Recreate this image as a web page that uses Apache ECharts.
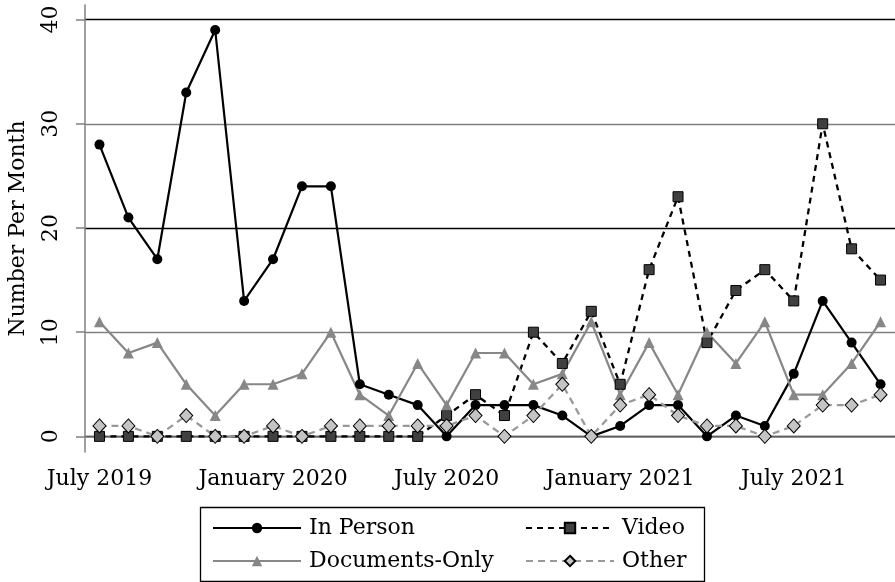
<!DOCTYPE html>
<html>
<head>
<meta charset="utf-8">
<script src="https://cdn.jsdelivr.net/npm/echarts@6/dist/echarts.min.js"></script>
<style>
  html, body { margin: 0; padding: 0; background: #fff; }
  #chart { width: 895px; height: 582px; }
</style>
</head>
<body>
<div id="chart"></div>
<script>
var months = [
	'July 2019', 'August 2019', 'September 2019', 'October 2019', 'November 2019', 'December 2019',
	'January 2020', 'February 2020', 'March 2020', 'April 2020', 'May 2020', 'June 2020',
	'July 2020', 'August 2020', 'September 2020', 'October 2020', 'November 2020', 'December 2020',
	'January 2021', 'February 2021', 'March 2021', 'April 2021', 'May 2021', 'June 2021',
	'July 2021', 'August 2021', 'September 2021', 'October 2021'
];
var yTicks = [0, 10, 20, 30, 40];

var inPerson  = [28, 21, 17, 33, 39, 13, 17, 24, 24, 5, 4, 3, 0, 3, 3, 3, 2, 0, 1, 3, 3, 0, 2, 1, 6, 13, 9, 5];
var video     = [0, 0, 0, 0, 0, 0, 0, 0, 0, 0, 0, 0, 2, 4, 2, 10, 7, 12, 5, 16, 23, 9, 14, 16, 13, 30, 18, 15];
var documents = [11, 8, 9, 5, 2, 5, 5, 6, 10, 4, 2, 7, 3, 8, 8, 5, 6, 11, 4, 9, 4, 10, 7, 11, 4, 4, 7, 11];
var other     = [1, 1, 0, 2, 0, 0, 1, 0, 1, 1, 1, 1, 1, 2, 0, 2, 5, 0, 3, 4, 2, 1, 1, 0, 1, 3, 3, 4];

var font = 'DejaVu Serif';
var fs = 22;

var chart = echarts.init(document.getElementById('chart'));
chart.setOption({
	animation: false,
	backgroundColor: '#fff',
	grid: {
		left: 85,
		right: 0,
		top: 5,
		bottom: 130,
		outerBoundsMode: 'none'
	},
	xAxis: {
		type: 'category',
		boundaryGap: true,
		data: months,
		axisLine: { lineStyle: { color: '#808080', width: 1.5 } },
		axisTick: { interval: 5, alignWithLabel: true, length: 9, lineStyle: { color: '#808080', width: 1.5 } },
		axisLabel: { interval: 5, margin: 16, color: '#000', fontFamily: font, fontSize: fs },
		splitLine: { show: false }
	},
	yAxis: {
		type: 'value',
		min: -1.5,
		max: 41.4,
		name: 'Number Per Month',
		nameLocation: 'middle',
		nameGap: 56,
		nameTextStyle: { color: '#000', fontFamily: font, fontSize: fs },
		axisLine: { show: true, lineStyle: { color: '#808080', width: 1.5 } },
		axisTick: { show: true, customValues: yTicks, length: 9, lineStyle: { color: '#808080', width: 1.5 } },
		axisLabel: { customValues: yTicks, rotate: 90, margin: 23, color: '#000', fontFamily: font, fontSize: fs },
		splitLine: { show: true, lineStyle: { color: ['#000', '#808080'], width: 1.3 } }
	},
	legend: [
		{
			orient: 'vertical',
			left: 207,
			top: 511,
			itemWidth: 88,
			itemHeight: 13,
			itemGap: 9,
			data: ['In Person', 'Documents-Only'],
			textStyle: { color: '#000', fontFamily: font, fontSize: fs, lineHeight: 24, padding: [0, 0, 0, 3] }
		},
		{
			orient: 'vertical',
			left: 520,
			top: 511,
			itemWidth: 88,
			itemHeight: 13,
			itemGap: 9,
			data: ['Video', 'Other'],
			textStyle: { color: '#000', fontFamily: font, fontSize: fs, lineHeight: 24, padding: [0, 0, 0, 3] }
		}
	],
	graphic: [
		{
			type: 'rect',
			left: 198,
			top: 505,
			shape: { width: 504, height: 74 },
			style: { fill: 'none', stroke: '#000', lineWidth: 1.3 }
		}
	],
	series: [
		{
			name: 'In Person',
			type: 'line',
			data: inPerson,
			symbol: 'circle',
			symbolSize: 10,
			lineStyle: { color: '#000', width: 2.2 },
			itemStyle: { color: '#000' }
		},
		{
			name: 'Video',
			type: 'line',
			data: video,
			symbol: 'rect',
			symbolSize: 10,
			lineStyle: { color: '#000', width: 2.3, type: [6, 5] },
			itemStyle: { color: '#404040', borderColor: '#000', borderWidth: 1 }
		},
		{
			name: 'Documents-Only',
			type: 'line',
			data: documents,
			symbol: 'triangle',
			symbolSize: 11,
			lineStyle: { color: '#878787', width: 2.2 },
			itemStyle: { color: '#878787' }
		},
		{
			name: 'Other',
			type: 'line',
			data: other,
			symbol: 'diamond',
			symbolSize: [13, 14],
			lineStyle: { color: '#999', width: 2.3, type: [7, 5] },
			itemStyle: { color: '#c4c4c4', borderColor: '#000', borderWidth: 1 }
		}
	]
});
</script>
</body>
</html>
